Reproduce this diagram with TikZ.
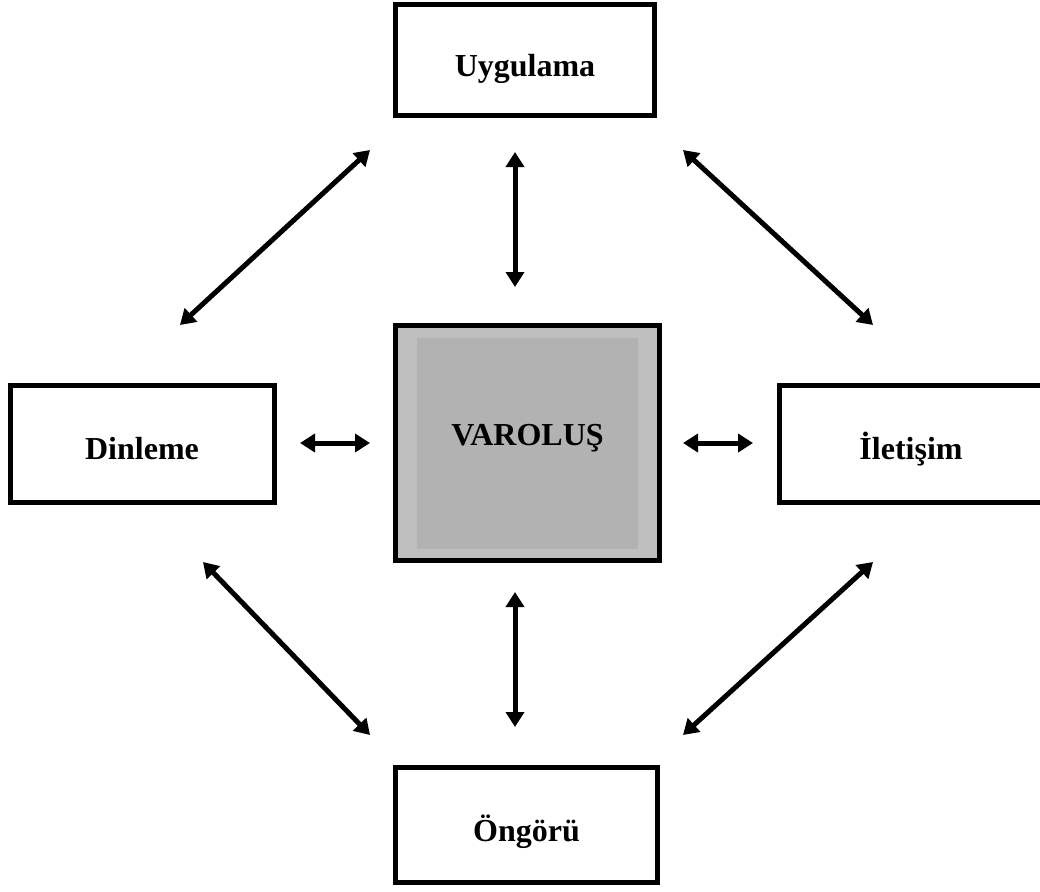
\documentclass[tikz,border=0pt]{standalone}
\usepackage{fontspec}
\setmainfont{Liberation Serif}
\usetikzlibrary{arrows.meta}
\definecolor{bandgray}{RGB}{191,191,191}
\definecolor{coregray}{RGB}{178,178,178}
\begin{document}
\begin{tikzpicture}[x=1pt,y=-1pt,
  box/.style={draw=black, line width=5pt, fill=white, inner sep=0pt},
  label/.style={inner sep=0pt, anchor=base,
    font=\fontsize{32}{38}\selectfont\bfseries},
  link/.style={line width=5pt,
    {Triangle[length=15pt,width=18pt]}-{Triangle[length=15pt,width=18pt]}}]
  \useasboundingbox (0,0) rectangle (1040,891);

  % outer boxes
  \node[box, minimum width=259pt, minimum height=111pt] (uyg) at (525,60) {};
  \node[box, minimum width=264pt, minimum height=117pt] (din) at (142.5,444) {};
  \node[box, minimum width=264pt, minimum height=117pt] (ile) at (911.5,444) {};
  \node[box, minimum width=262pt, minimum height=115pt] (ong) at (526.5,825) {};

  % central box with a lighter band and a darker core
  \node[draw=black, line width=5pt, fill=bandgray, inner sep=0pt,
        minimum width=264pt, minimum height=235pt] (var) at (527.5,443) {};
  \fill[coregray] (417,338) rectangle (638,549);

  % box texts, placed on their baselines
  \node[label] (uyglabel) at (525,76) {Uygulama};
  \node[label] (dinlabel) at (142,459) {Dinleme};
  \node[label] (ilelabel) at (911,459) {İletişim};
  \node[label] (onglabel) at (526.5,841) {Öngörü};
  \node[label] (varlabel) at (527.5,445) {VAROLUŞ};

  % arrow end points
  \coordinate (t1) at (515,152);  \coordinate (t2) at (515,287);
  \coordinate (b1) at (515,592);  \coordinate (b2) at (515,727);
  \coordinate (l1) at (300,443);  \coordinate (l2) at (370,443);
  \coordinate (r1) at (683,443);  \coordinate (r2) at (753,443);
  \coordinate (ul1) at (370,150); \coordinate (ul2) at (180,325);
  \coordinate (ur1) at (683,150); \coordinate (ur2) at (873,325);
  \coordinate (ll1) at (203,562); \coordinate (ll2) at (370,735);
  \coordinate (lr1) at (873,562); \coordinate (lr2) at (683,735);

  % connectors
  \draw[link] (t1) -- (t2);
  \draw[link] (b1) -- (b2);
  \draw[link] (l1) -- (l2);
  \draw[link] (r1) -- (r2);
  \draw[link] (ul1) -- (ul2);
  \draw[link] (ur1) -- (ur2);
  \draw[link] (ll1) -- (ll2);
  \draw[link] (lr1) -- (lr2);
\end{tikzpicture}
\end{document}
